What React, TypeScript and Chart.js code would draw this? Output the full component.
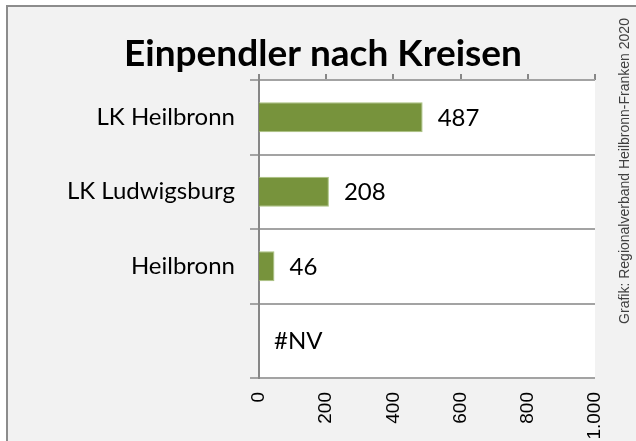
import { useEffect, useRef } from 'react';
import { Chart, registerables } from 'chart.js';

Chart.register(...registerables);

const title = 'Einpendler nach Kreisen';
const credit = 'Grafik: Regionalverband Heilbronn-Franken 2020';
const categories = ['LK Heilbronn', 'LK Ludwigsburg', 'Heilbronn', ''];
const values: (number | null)[] = [487, 208, 46, null];
const valueLabels = ['487', '208', '46', '#NV'];
const axisMin = 0;
const axisMax = 1000;
const axisStep = 200;

const BAR = '#77933c';
const BAR_EDGE = '#a9c27f';
const GRID = '#a3a3a3';
const AXIS = '#878787';
const PANEL = '#f2f2f2';

const fmt = (v: number) => String(v).replace(/\B(?=(\d{3})+(?!\d))/g, '.');

const framePlugin = {
  id: 'frame',
  beforeDraw(chart: any) {
    const { ctx, width, height, chartArea } = chart;
    ctx.save();
    ctx.fillStyle = '#ffffff';
    ctx.fillRect(0, 0, width, height);
    ctx.fillStyle = PANEL;
    ctx.fillRect(6, 6, width - 6, height - 6);
    ctx.strokeStyle = '#8c8c8c';
    ctx.lineWidth = 2;
    ctx.beginPath();
    ctx.moveTo(7, height);
    ctx.lineTo(7, 6);
    ctx.lineTo(width, 6);
    ctx.stroke();
    ctx.fillStyle = '#ffffff';
    ctx.fillRect(chartArea.left, chartArea.top, chartArea.right - chartArea.left, chartArea.bottom - chartArea.top);
    ctx.restore();
  },
  afterDraw(chart: any) {
    const { ctx } = chart;
    ctx.save();
    ctx.fillStyle = '#000000';
    ctx.font = 'bold 37px Lato';
    ctx.textAlign = 'center';
    ctx.textBaseline = 'alphabetic';
    ctx.fillText(title, 323, 66);
    ctx.translate(629, 171);
    ctx.rotate(-Math.PI / 2);
    ctx.font = '14px "Liberation Sans"';
    ctx.fillStyle = '#404040';
    ctx.textAlign = 'center';
    ctx.fillText(credit, 0, 0);
    ctx.restore();
  },
};

const valueLabelPlugin = {
  id: 'valueLabels',
  afterDatasetsDraw(chart: any) {
    const { ctx } = chart;
    const xs = chart.scales.x;
    const ys = chart.scales.y;
    ctx.save();
    ctx.fillStyle = '#000000';
    ctx.font = '24px Lato';
    ctx.textAlign = 'left';
    ctx.textBaseline = 'middle';
    values.forEach((v, i) => {
      const x = xs.getPixelForValue(v ?? 0) + 15;
      const y = ys.getPixelForValue(i) + 1;
      ctx.fillText(valueLabels[i], x, y);
    });
    ctx.restore();
  },
};

export default function App() {
  const ref = useRef<HTMLCanvasElement>(null);
  useEffect(() => {
    document.body.style.margin = '0';
    const canvas = ref.current!;
    const chart = new Chart(canvas, {
      type: 'bar',
      data: {
        labels: categories,
        datasets: [
          {
            data: values,
            backgroundColor: BAR,
            borderColor: BAR_EDGE,
            borderWidth: 1,
            barPercentage: 0.4,
            categoryPercentage: 1,
          },
        ],
      },
      options: {
        indexAxis: 'y',
        responsive: false,
        animation: false,
        devicePixelRatio: 1,
        layout: { padding: { left: 0, right: 41, top: 74, bottom: 0 } },
        plugins: {
          legend: { display: false },
          tooltip: { enabled: false },
          title: { display: false },
        },
        scales: {
          x: {
            type: 'linear',
            position: 'bottom',
            min: axisMin,
            max: axisMax,
            ticks: {
              stepSize: axisStep,
              maxRotation: 90,
              minRotation: 90,
              padding: 14,
              color: '#000000',
              font: { family: 'Liberation Sans', size: 19 },
              callback: (v: any) => fmt(Number(v)),
            },
            grid: { display: false, drawTicks: false },
            border: { display: false },
            afterFit: (s: any) => {
              s.height = 63;
            },
          },
          x2: {
            type: 'linear',
            position: 'top',
            min: axisMin,
            max: axisMax,
            ticks: { stepSize: axisStep, display: false },
            grid: { drawOnChartArea: false, drawTicks: true, tickLength: 6, color: AXIS, lineWidth: 2 },
            border: { display: false },
            afterFit: (s: any) => {
              s.height = 6;
            },
          },
          y: {
            type: 'category',
            position: 'left',
            offset: true,
            grid: { offset: true, color: GRID, lineWidth: 2, tickLength: 9 },
            border: { display: true, color: AXIS, width: 2 },
            ticks: { padding: 15, color: '#000000', font: { family: 'Lato', size: 24 } },
            afterFit: (s: any) => {
              s.width = 259;
            },
          },
        },
      },
      plugins: [framePlugin, valueLabelPlugin],
    } as any);
    return () => chart.destroy();
  }, []);
  return <canvas ref={ref} width={636} height={441} style={{ display: 'block' }} />;
}
